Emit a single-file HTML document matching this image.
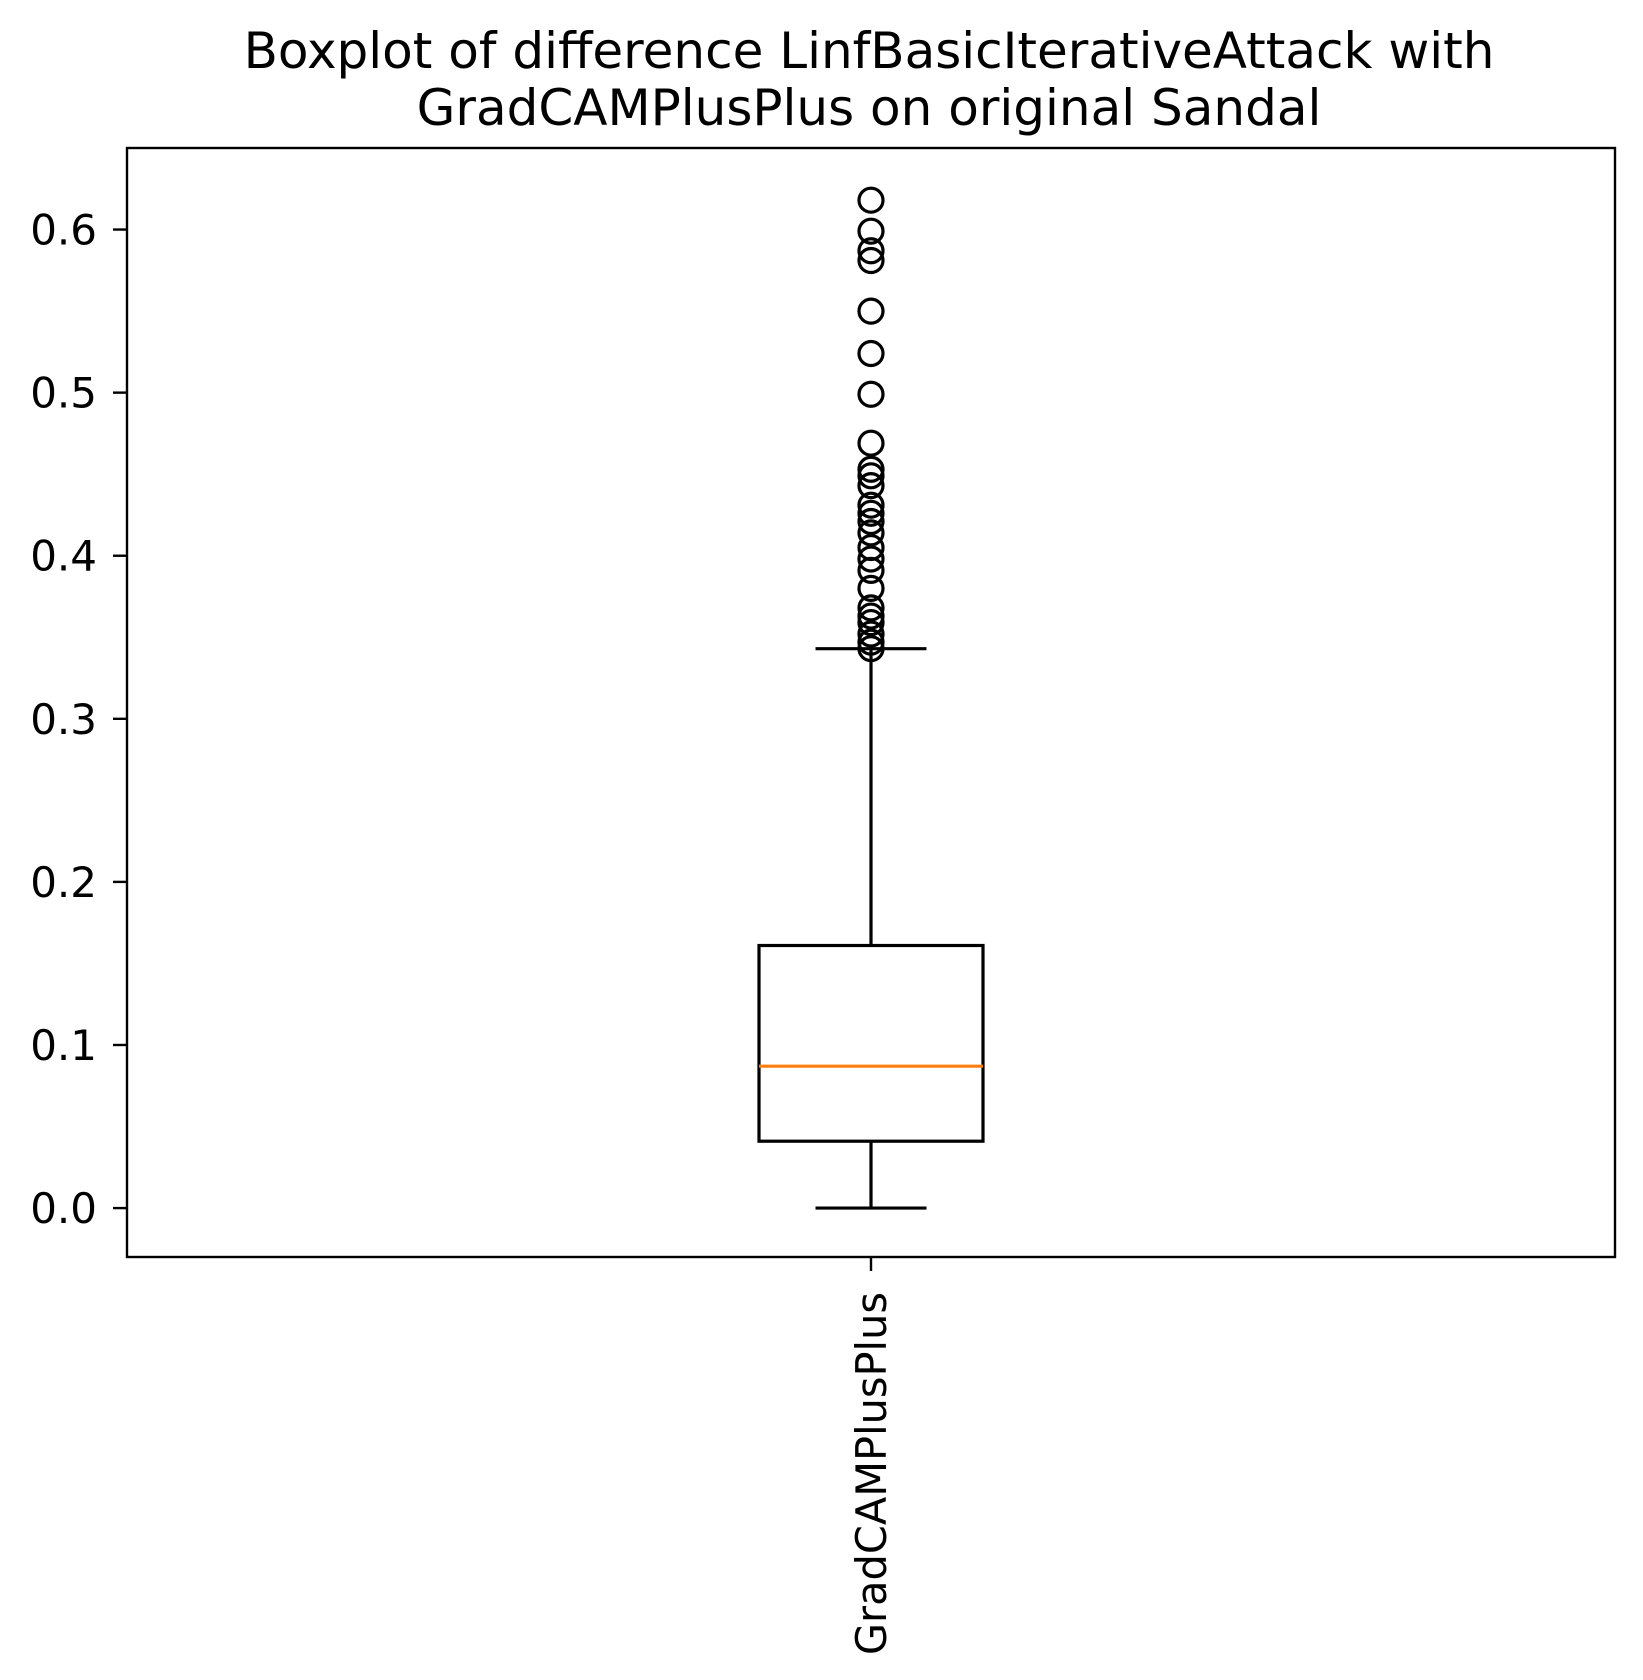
<!DOCTYPE html>
<html><head><meta charset="utf-8"><style>
html,body{margin:0;padding:0;background:#fff;}
svg{display:block;font-family:"DejaVu Sans","Liberation Sans",sans-serif;}
</style></head><body>
<svg id="chart" width="1643" height="1680" viewBox="0 0 1643 1680">
<text x="869" y="68" font-size="50" text-anchor="middle">Boxplot of difference LinfBasicIterativeAttack with</text>
<text x="869" y="125" font-size="50" text-anchor="middle">GradCAMPlusPlus on original Sandal</text>
<g id="plot"></g>
<rect x="127" y="148" width="1488" height="1109" fill="none" stroke="#000" stroke-width="2.4"/>
</svg>
<script>
const categories = ["GradCAMPlusPlus"];
const q1 = [0.041];
const q3 = [0.161];
const median = [0.087];
const whiskerLow = [0.0];
const whiskerHigh = [0.343];
const outliers = [0.618,0.599,0.587,0.581,0.550,0.524,0.499,0.469,0.453,0.449,0.443,0.431,0.426,0.421,0.414,0.405,0.398,0.391,0.380,0.368,0.363,0.359,0.352,0.347,0.343];
const yTicks = [0.0,0.1,0.2,0.3,0.4,0.5,0.6];
const yTickLabels = ["0.0","0.1","0.2","0.3","0.4","0.5","0.6"];

const L=127,R=1615,T=148,B=1257, yMin=-0.030, yMax=0.650;
const NS="http://www.w3.org/2000/svg";
const g=document.getElementById('plot');
function y(v){return B-(v-yMin)/(yMax-yMin)*(B-T);}
function x(i){return L+(i+0.5)*(R-L)/categories.length;}
function mk(tag,attrs){const e=document.createElementNS(NS,tag);for(const k in attrs)e.setAttribute(k,attrs[k]);g.appendChild(e);return e;}

yTicks.forEach((t,i)=>{
  const tk=mk('line',{x1:L-14,x2:L,y1:y(t),y2:y(t),stroke:'#000','stroke-width':2.4});
  
  
  const lb=mk('text',{x:L-30,y:y(t)+15,'font-size':42,'text-anchor':'end'});
  lb.textContent=yTickLabels[i];
  
  
});

categories.forEach((c,i)=>{
  const cx=x(i), bw=224, cw=111;
  const w1=mk('line',{x1:cx,x2:cx,y1:y(whiskerLow[i]),y2:y(q1[i]),stroke:'#000','stroke-width':3.2});
  
  
  const w2=mk('line',{x1:cx,x2:cx,y1:y(q3[i]),y2:y(whiskerHigh[i]),stroke:'#000','stroke-width':3.2});
  
  
  const c1=mk('line',{x1:cx-cw/2,x2:cx+cw/2,y1:y(whiskerLow[i]),y2:y(whiskerLow[i]),stroke:'#000','stroke-width':3.2});
  
  
  const c2=mk('line',{x1:cx-cw/2,x2:cx+cw/2,y1:y(whiskerHigh[i]),y2:y(whiskerHigh[i]),stroke:'#000','stroke-width':3.2});
  
  
  const bx=mk('rect',{x:cx-bw/2,y:y(q3[i]),width:bw,height:y(q1[i])-y(q3[i]),fill:'none',stroke:'#000','stroke-width':3.2});
  
  
  const md=mk('line',{x1:cx-bw/2,x2:cx+bw/2,y1:y(median[i]),y2:y(median[i]),stroke:'#ff7f0e','stroke-width':3.2});
  
  
  outliers.forEach(v=>{
    const o=mk('circle',{cx:cx,cy:y(v),r:12,fill:'none',stroke:'#000','stroke-width':3.2});
    
    
  });
  const tk=mk('line',{x1:cx,x2:cx,y1:B,y2:B+14,stroke:'#000','stroke-width':2.4});
  
  
  const lb=mk('text',{x:0,y:0,'font-size':41.5,'text-anchor':'end',transform:`translate(${cx+15},${B+35}) rotate(-90)`});
  lb.textContent=c;
  
  
});
</script>
</body></html>
